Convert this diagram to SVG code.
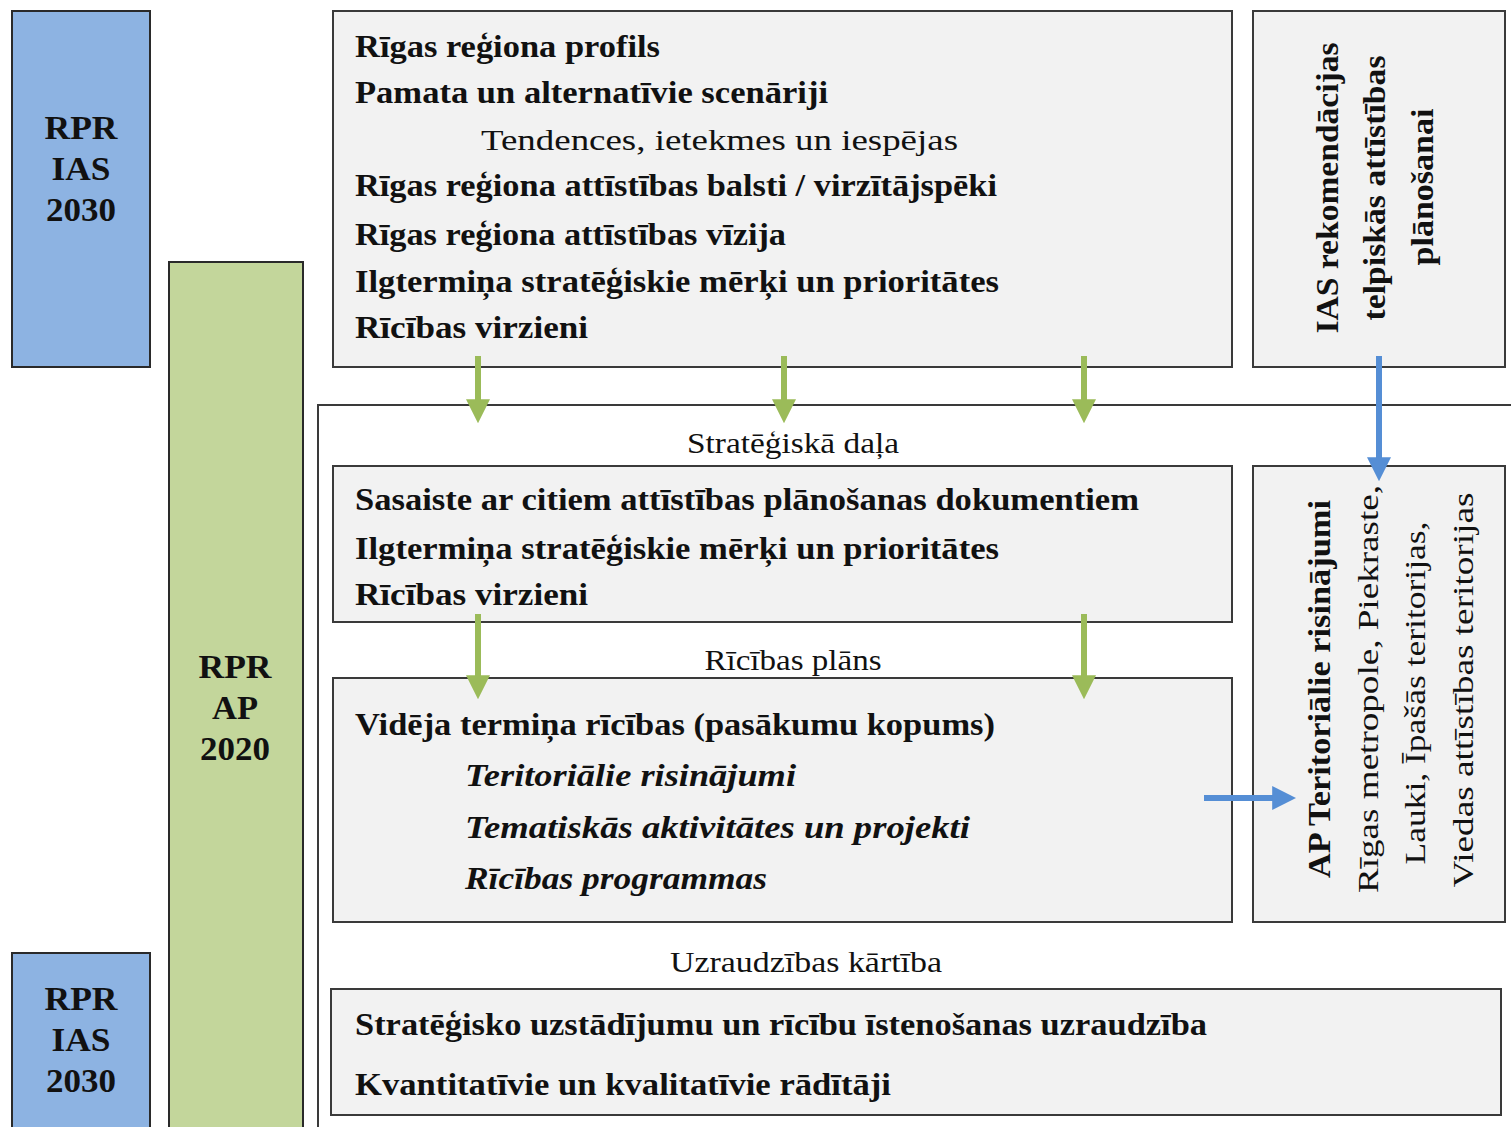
<svg xmlns="http://www.w3.org/2000/svg" width="1511" height="1127" viewBox="0 0 1511 1127">
<style>
.box{fill:#f2f2f2;stroke:#3a3a3a;stroke-width:2}
.blue{fill:#8db3e2;stroke:#2a2a2a;stroke-width:2}
.green{fill:#c3d69b;stroke:#2a2a2a;stroke-width:2}
.cont{fill:#ffffff;stroke:#3a3a3a;stroke-width:2}
text{font-family:"Liberation Serif","Times New Roman",serif;fill:#111}
.b{font-size:31px;font-weight:bold}
.r{font-size:30px}
.bi{font-size:31px;font-weight:bold;font-style:italic}
.side{font-size:33px;font-weight:bold;text-anchor:middle}
.mid{text-anchor:middle}
.ga{stroke:#9bbb59;stroke-width:6;fill:none}
.ba{stroke:#558ed5;stroke-width:6;fill:none}
</style>
<defs>
<marker id="mg" viewBox="0 0 10 10" refX="2" refY="5" markerWidth="4" markerHeight="4" orient="auto" markerUnits="strokeWidth">
<path d="M0,0 L10,5 L0,10 z" fill="#9bbb59"/>
</marker>
<marker id="mb" viewBox="0 0 10 10" refX="2" refY="5" markerWidth="4" markerHeight="4" orient="auto" markerUnits="strokeWidth">
<path d="M0,0 L10,5 L0,10 z" fill="#558ed5"/>
</marker>
</defs>
<rect width="1511" height="1127" fill="#ffffff"/>

<g id="container">
<rect class="cont" x="318" y="405" width="1220" height="760"/>
<text class="r mid" x="793" y="453" textLength="212" lengthAdjust="spacingAndGlyphs">Stratēģiskā daļa</text>
<text class="r mid" x="793" y="670" textLength="177" lengthAdjust="spacingAndGlyphs">Rīcības plāns</text>
<text class="r mid" x="806" y="972" textLength="272" lengthAdjust="spacingAndGlyphs">Uzraudzības kārtība</text>
</g>

<g id="rpr-ias-top">
<rect class="blue" x="12" y="11" width="138" height="356"/>
<text class="side" x="81" y="139" textLength="73" lengthAdjust="spacingAndGlyphs">RPR</text>
<text class="side" x="81" y="180" textLength="59" lengthAdjust="spacingAndGlyphs">IAS</text>
<text class="side" x="81" y="221" textLength="70" lengthAdjust="spacingAndGlyphs">2030</text>
</g>

<g id="rpr-ap">
<rect class="green" x="169" y="262" width="134" height="880"/>
<text class="side" x="235" y="678" textLength="73" lengthAdjust="spacingAndGlyphs">RPR</text>
<text class="side" x="235" y="719" textLength="46" lengthAdjust="spacingAndGlyphs">AP</text>
<text class="side" x="235" y="760" textLength="70" lengthAdjust="spacingAndGlyphs">2020</text>
</g>

<g id="rpr-ias-bottom">
<rect class="blue" x="12" y="953" width="138" height="190"/>
<text class="side" x="81" y="1010" textLength="73" lengthAdjust="spacingAndGlyphs">RPR</text>
<text class="side" x="81" y="1051" textLength="59" lengthAdjust="spacingAndGlyphs">IAS</text>
<text class="side" x="81" y="1092" textLength="70" lengthAdjust="spacingAndGlyphs">2030</text>
</g>

<g id="ias-main">
<rect class="box" x="333" y="11" width="899" height="356"/>
<text class="b" x="355" y="57" textLength="305" lengthAdjust="spacingAndGlyphs">Rīgas reģiona profils</text>
<text class="b" x="355" y="103" textLength="473" lengthAdjust="spacingAndGlyphs">Pamata un alternatīvie scenāriji</text>
<text class="r" x="481" y="150" textLength="477" lengthAdjust="spacingAndGlyphs">Tendences, ietekmes un iespējas</text>
<text class="b" x="355" y="196" textLength="642" lengthAdjust="spacingAndGlyphs">Rīgas reģiona attīstības balsti / virzītājspēki</text>
<text class="b" x="355" y="245" textLength="431" lengthAdjust="spacingAndGlyphs">Rīgas reģiona attīstības vīzija</text>
<text class="b" x="355" y="292" textLength="644" lengthAdjust="spacingAndGlyphs">Ilgtermiņa stratēģiskie mērķi un prioritātes</text>
<text class="b" x="355" y="338" textLength="233" lengthAdjust="spacingAndGlyphs">Rīcības virzieni</text>
</g>

<g id="ias-rec">
<rect class="box" x="1253" y="11" width="252" height="356"/>
<g transform="translate(1338,188) rotate(-90)">
<text class="b mid" x="0" y="0" textLength="291" lengthAdjust="spacingAndGlyphs">IAS rekomendācijas</text>
</g>
<g transform="translate(1385,188) rotate(-90)">
<text class="b mid" x="0" y="0" textLength="265" lengthAdjust="spacingAndGlyphs">telpiskās attīstības</text>
</g>
<g transform="translate(1433,187) rotate(-90)">
<text class="b mid" x="0" y="0" textLength="157" lengthAdjust="spacingAndGlyphs">plānošanai</text>
</g>
</g>

<g id="strategic">
<rect class="box" x="333" y="466" width="899" height="156"/>
<text class="b" x="355" y="510" textLength="784" lengthAdjust="spacingAndGlyphs">Sasaiste ar citiem attīstības plānošanas dokumentiem</text>
<text class="b" x="355" y="559" textLength="644" lengthAdjust="spacingAndGlyphs">Ilgtermiņa stratēģiskie mērķi un prioritātes</text>
<text class="b" x="355" y="605" textLength="233" lengthAdjust="spacingAndGlyphs">Rīcības virzieni</text>
</g>

<g id="action">
<rect class="box" x="333" y="678" width="899" height="244"/>
<text class="b" x="355" y="735" textLength="640" lengthAdjust="spacingAndGlyphs">Vidēja termiņa rīcības (pasākumu kopums)</text>
<text class="bi" x="465" y="786" textLength="331" lengthAdjust="spacingAndGlyphs">Teritoriālie risinājumi</text>
<text class="bi" x="465" y="838" textLength="505" lengthAdjust="spacingAndGlyphs">Tematiskās aktivitātes un projekti</text>
<text class="bi" x="465" y="889" textLength="302" lengthAdjust="spacingAndGlyphs">Rīcības programmas</text>
</g>

<g id="ap-territorial">
<rect class="box" x="1253" y="466" width="252" height="456"/>
<g transform="translate(1330,689) rotate(-90)">
<text class="b mid" x="0" y="0" textLength="378" lengthAdjust="spacingAndGlyphs">AP Teritoriālie risinājumi</text>
</g>
<g transform="translate(1378,689) rotate(-90)">
<text class="r mid" x="0" y="0" textLength="408" lengthAdjust="spacingAndGlyphs">Rīgas metropole, Piekraste,</text>
</g>
<g transform="translate(1425,693) rotate(-90)">
<text class="r mid" x="0" y="0" textLength="343" lengthAdjust="spacingAndGlyphs">Lauki, Īpašās teritorijas,</text>
</g>
<g transform="translate(1473,690) rotate(-90)">
<text class="r mid" x="0" y="0" textLength="395" lengthAdjust="spacingAndGlyphs">Viedas attīstības teritorijas</text>
</g>
</g>

<g id="monitoring">
<rect class="box" x="331" y="989" width="1170" height="126"/>
<text class="b" x="355" y="1035" textLength="852" lengthAdjust="spacingAndGlyphs">Stratēģisko uzstādījumu un rīcību īstenošanas uzraudzība</text>
<text class="b" x="355" y="1095" textLength="536" lengthAdjust="spacingAndGlyphs">Kvantitatīvie un kvalitatīvie rādītāji</text>
</g>

<g id="connectors">
<line class="ga" x1="478" y1="356" x2="478" y2="404" marker-end="url(#mg)"/>
<line class="ga" x1="784" y1="356" x2="784" y2="404" marker-end="url(#mg)"/>
<line class="ga" x1="1084" y1="356" x2="1084" y2="404" marker-end="url(#mg)"/>
<line class="ga" x1="478" y1="614" x2="478" y2="680" marker-end="url(#mg)"/>
<line class="ga" x1="1084" y1="614" x2="1084" y2="680" marker-end="url(#mg)"/>
<line class="ba" x1="1379" y1="356" x2="1379" y2="462" marker-end="url(#mb)"/>
<line class="ba" x1="1204" y1="798" x2="1277" y2="798" marker-end="url(#mb)"/>
</g>
</svg>
